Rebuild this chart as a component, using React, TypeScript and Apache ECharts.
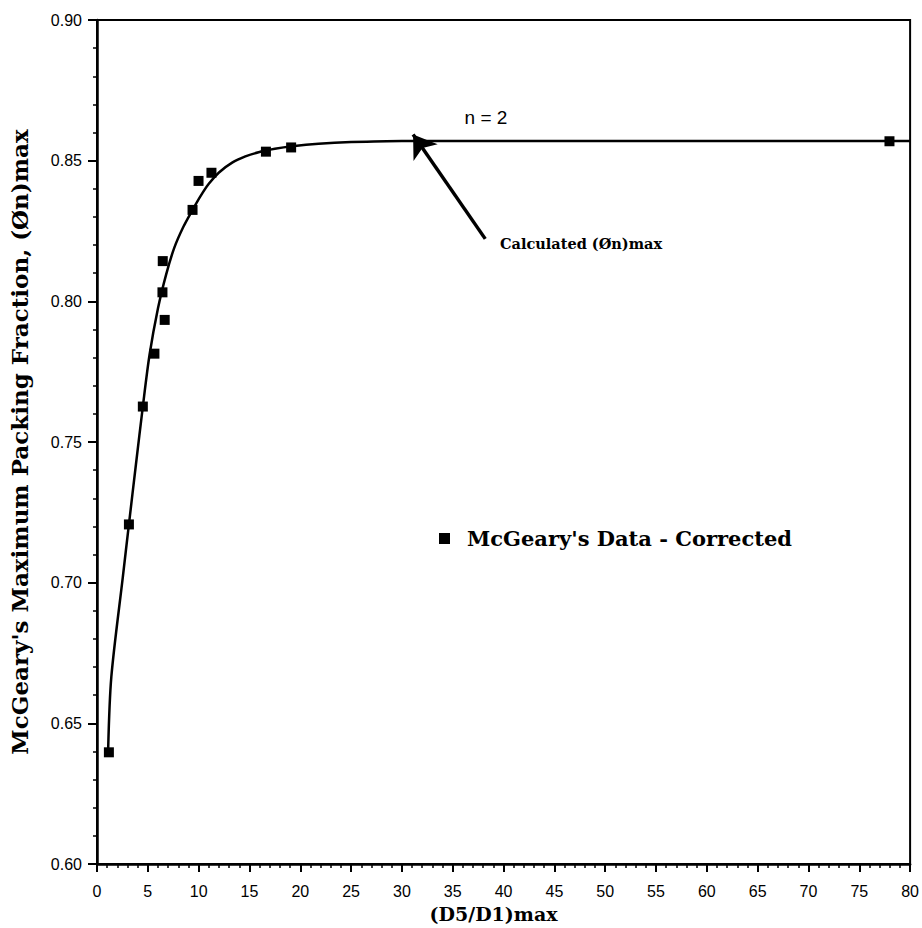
import React, { useEffect, useRef } from "react";
import * as echarts from "echarts";

// McGeary's data (corrected)
const scatterX = [1.17, 3.14, 4.51, 5.65, 6.66, 6.44, 6.47, 9.4, 9.99, 11.26, 16.62, 19.1, 77.97];
const scatterY = [0.6397, 0.7207, 0.7626, 0.7814, 0.7934, 0.8032, 0.8143, 0.8325, 0.8428, 0.8457, 0.8532, 0.8547, 0.8569];

// Calculated curve, n = 2
const curveX = [1.1, 1.41, 2.54, 3.14, 3.83, 4.51, 5.17, 6.0, 6.8, 7.6, 8.5, 9.4, 10.2, 11.0, 12.0, 13.3, 14.6, 15.9, 17.5, 19.2, 21.8, 25, 30, 40, 60, 80];
const curveY = [0.641, 0.6665, 0.702, 0.7207, 0.742, 0.7626, 0.781, 0.7975, 0.8095, 0.819, 0.8265, 0.8325, 0.8375, 0.8418, 0.8458, 0.8493, 0.8515, 0.853, 0.8542, 0.8551, 0.856, 0.8566, 0.857, 0.857, 0.857, 0.857];

// Arrow annotation (data coordinates)
const arrowFrom = [38.2, 0.8222];
const arrowTo = [31.1, 0.8593];

const legendLabel = "McGeary's Data - Corrected";
const curveLabel = "n = 2";
const arrowLabel = "Calculated (Øn)max";
const xTitle = "(D5/D1)max";
const yTitle = "McGeary's Maximum Packing Fraction, (Øn)max";

const SERIF = "'DejaVu Serif', 'Liberation Serif', serif";
const SANS = "'Liberation Sans', Arial, sans-serif";

export default function App() {
  const ref = useRef<HTMLDivElement>(null);
  useEffect(() => {
    const chart = echarts.init(ref.current!, null, { renderer: "svg" });
    chart.setOption({
      animation: false,
      backgroundColor: "#fff",
      grid: {
        left: 97,
        right: 8,
        top: 20,
        bottom: 60,
        show: true,
        borderColor: "#000",
        borderWidth: 2,
        backgroundColor: "transparent",
      },
      legend: {
        data: [legendLabel],
        left: 434,
        top: 523,
        icon: "rect",
        itemWidth: 11,
        itemHeight: 11,
        selectedMode: false,
        textStyle: {
          fontFamily: SERIF,
          fontWeight: "bold",
          fontSize: 21,
          color: "#000",
          padding: [0, 0, 0, 12],
        },
      },
      xAxis: {
        type: "value",
        min: 0,
        max: 80,
        interval: 5,
        splitLine: { show: false },
        axisLine: { lineStyle: { color: "#000", width: 2.5 } },
        axisTick: { length: 8, lineStyle: { color: "#000", width: 2 } },
        minorTick: { show: true, splitNumber: 5, length: 4, lineStyle: { color: "#000", width: 1.5 } },
        axisLabel: { color: "#000", fontFamily: SANS, fontSize: 16, margin: 19 },
        name: xTitle,
        nameLocation: "middle",
        nameGap: 40,
        nameTextStyle: { fontFamily: SERIF, fontWeight: "bold", fontSize: 19, color: "#000", padding: [0, 20, 0, 0] },
      },
      yAxis: {
        type: "value",
        min: 0.6,
        max: 0.9,
        interval: 0.05,
        splitLine: { show: false },
        axisLine: { lineStyle: { color: "#000", width: 2.5 } },
        axisTick: { length: 9, lineStyle: { color: "#000", width: 2 } },
        minorTick: { show: true, splitNumber: 5, length: 4, lineStyle: { color: "#000", width: 1.5 } },
        axisLabel: {
          color: "#000",
          fontFamily: SANS,
          fontSize: 16,
          margin: 15,
          formatter: (v: number) => v.toFixed(2),
        },
        name: yTitle,
        nameLocation: "middle",
        nameGap: 66,
        nameTextStyle: { fontFamily: SERIF, fontWeight: "bold", fontSize: 23, color: "#000" },
      },
      graphic: [
        {
          type: "text",
          x: 486,
          y: 117,
          style: {
            text: curveLabel,
            font: `19px ${SANS}`,
            fill: "#000",
            align: "center",
            verticalAlign: "middle",
          },
        },
        {
          type: "text",
          x: 500,
          y: 243,
          style: {
            text: arrowLabel,
            font: `bold 14.5px ${SERIF}`,
            fill: "#000",
            align: "left",
            verticalAlign: "middle",
          },
        },
      ],
      series: [
        {
          type: "line",
          name: curveLabel,
          data: curveX.map((x, i) => [x, curveY[i]]),
          showSymbol: false,
          smooth: 0.3,
          lineStyle: { color: "#000", width: 2.5 },
          z: 2,
          markLine: {
            silent: true,
            animation: false,
            label: { show: false },
            lineStyle: { color: "#000", width: 3.5, type: "solid" },
            data: [
              [
                { coord: arrowFrom, symbol: "none" },
                { coord: arrowTo, symbol: "arrow", symbolSize: 22 },
              ],
            ],
          },
        },
        {
          type: "scatter",
          name: legendLabel,
          data: scatterX.map((x, i) => [x, scatterY[i]]),
          symbol: "rect",
          symbolSize: 10,
          itemStyle: { color: "#000", opacity: 1 },
          z: 3,
        },
      ],
    });
    return () => chart.dispose();
  }, []);
  return (
    <div
      ref={ref}
      style={{ position: "absolute", left: 0, top: 0, width: 922, height: 928 }}
    />
  );
}
